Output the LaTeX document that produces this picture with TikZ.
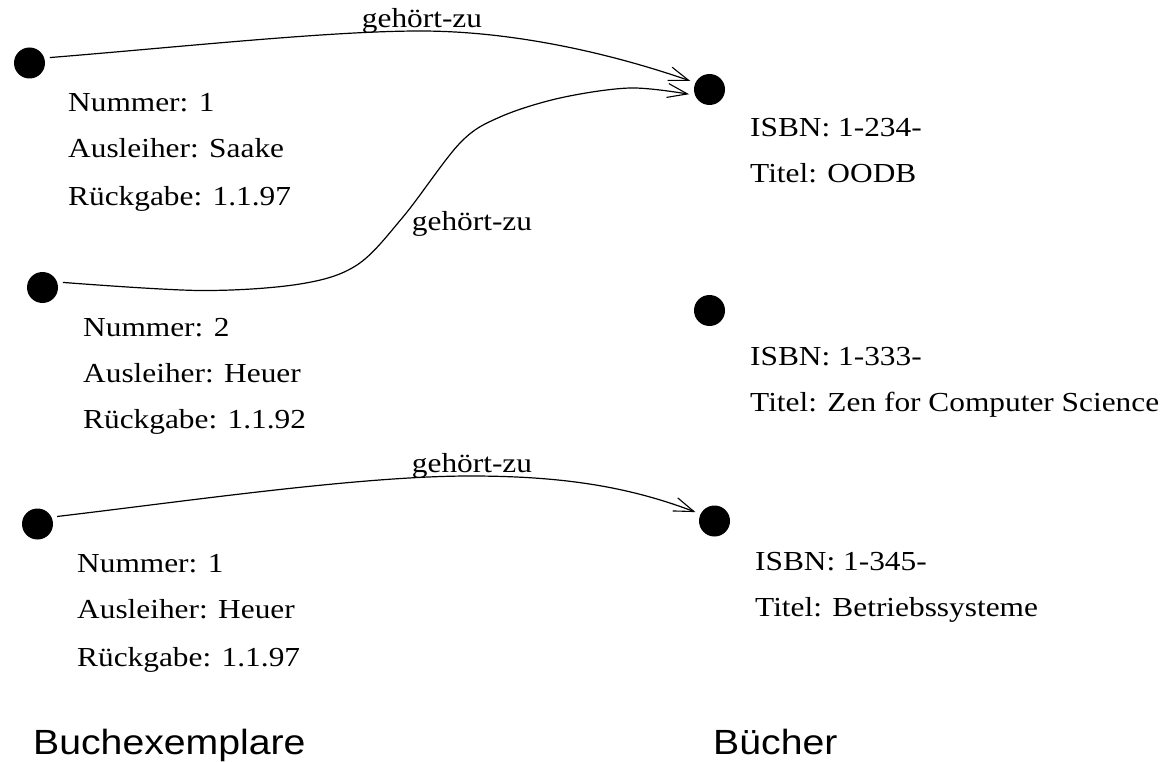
\documentclass[tikz,border=0pt]{standalone}
\usepackage{fontspec}
\usetikzlibrary{arrows.meta}
\newfontfamily\lblfont[FakeStretch=1.14]{Liberation Serif}
\newfontfamily\ttlfont[FakeStretch=1.12]{Liberation Sans}
\tikzset{
  dot/.style={circle, fill=black, draw=none, minimum size=31pt, inner sep=0pt, outer sep=5.5pt},
  lbl/.style={anchor=base west, inner sep=0pt, font=\lblfont\fontsize{27.5}{30}\selectfont},
  elbl/.style={anchor=base, inner sep=0pt, font=\lblfont\fontsize{27.5}{30}\selectfont},
  ttl/.style={anchor=base west, inner sep=0pt, font=\ttlfont\fontsize{35}{40}\selectfont},
  rel/.style={line width=1.2pt, -{Straight Barb[length=20pt,width=14pt,line width=1.1pt]}}
}
\begin{document}
\begin{tikzpicture}[x=1pt,y=-1pt]
\path[use as bounding box] (0,0) rectangle (1164,762);
% dots
\node[dot] (d1) at (29.5,63) {};
\node[dot] (d2) at (42.5,287.5) {};
\node[dot] (d3) at (37.5,524) {};
\node[dot] (b1) at (709.5,89.5) {};
\node[dot] (b2) at (709.5,310.5) {};
\node[dot] (b3) at (714.5,521) {};
% left texts
\node[lbl] (n1a) at (68,112) {Nummer: 1};
\node[lbl] (n1b) at (68,158) {Ausleiher: Saake};
\node[lbl] (n1c) at (68,205) {Rückgabe: 1.1.97};
\node[lbl] (n2a) at (83,336) {Nummer: 2};
\node[lbl] (n2b) at (83,382) {Ausleiher: Heuer};
\node[lbl] (n2c) at (83,428) {Rückgabe: 1.1.92};
\node[lbl] (n3a) at (77,572) {Nummer: 1};
\node[lbl] (n3b) at (77,618) {Ausleiher: Heuer};
\node[lbl] (n3c) at (77,666) {Rückgabe: 1.1.97};
% right texts
\node[lbl] (i1a) at (750,137) {ISBN: 1-234-};
\node[lbl] (i1b) at (750,183) {Titel: OODB};
\node[lbl] (i2a) at (750,365) {ISBN: 1-333-};
\node[lbl] (i2b) at (750,411) {Titel: Zen for Computer Science};
\node[lbl] (i3a) at (755,570) {ISBN: 1-345-};
\node[lbl] (i3b) at (755,616) {Titel: Betriebssysteme};
% titles
\node[ttl] (t1) at (33,754) {Buchexemplare};
\node[ttl] (t2) at (713,754) {Bücher};
% edge labels
\node[elbl] (l1) at (422,28) {gehört-zu};
\node[elbl] (l2) at (472,230) {gehört-zu};
\node[elbl] (l3) at (472,472) {gehört-zu};
% connectors
\coordinate (m1) at (420,31);
\coordinate (m3) at (470,476);
\draw[rel] (d1.15.6) .. controls (180,47) and (330,31) .. (m1)
  .. controls (520,31) and (620,56.5) .. (b1.156.5);
\draw[rel] plot[smooth, tension=0.55] coordinates {(d2.14.3) (200,290.5) (300,284) (357,265) (403,217) (460,143) (500,117) (560,98) (630,88) (b1.-167)};
\draw[rel] (d3.21.3) .. controls (188,501) and (360,476) .. (m3)
  .. controls (560,476) and (627,486) .. (b3.155.4);
\end{tikzpicture}
\end{document}
